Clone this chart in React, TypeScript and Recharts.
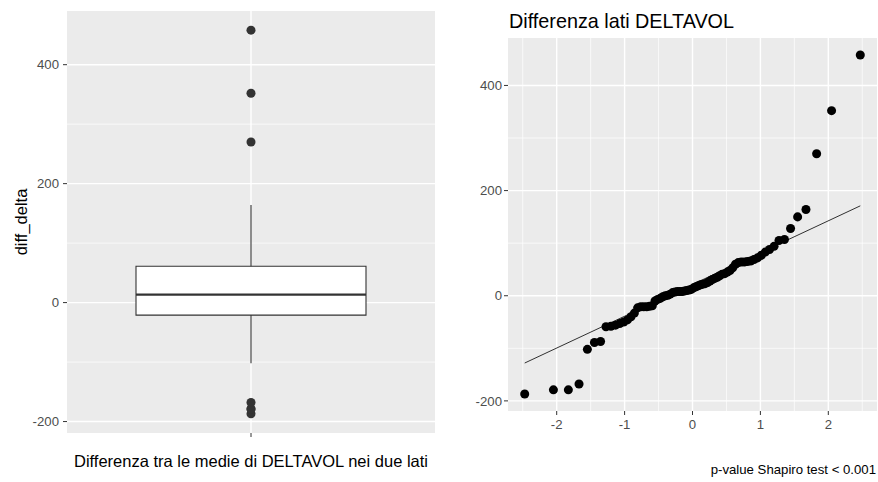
import React from 'react';
import {
  ScatterChart, Scatter, XAxis, YAxis, ZAxis, CartesianGrid, ReferenceLine, ReferenceArea,
} from 'recharts';

const FONT = '"Liberation Sans", Arial, Helvetica, sans-serif';

// DELTAVOL side difference, sorted sample (n = 74)
const diffDelta = [
  -187, -179, -179, -168, -102, -89, -87, -59, -58, -56,
  -53, -50, -46, -40, -33, -23, -21, -21, -21, -20,
  -19, -10, -7, -5, -2, 0, 1, 3, 6, 7,
  8, 8, 8, 9, 10, 11, 12, 15, 17, 19,
  21, 22, 23, 25, 28, 31, 33, 35, 38, 41,
  42, 45, 48, 53, 60, 63, 64, 64, 65, 66,
  69, 72, 77, 83, 88, 94, 105, 107, 128, 150,
  164, 270, 352, 458,
];

// normal theoretical quantiles for the same positions
const theoretical = [
  -2.471, -2.048, -1.828, -1.671, -1.548, -1.444, -1.354, -1.274, -1.201, -1.134,
  -1.072, -1.014, -0.958, -0.906, -0.856, -0.808, -0.762, -0.718, -0.674, -0.633,
  -0.592, -0.552, -0.513, -0.475, -0.437, -0.400, -0.364, -0.328, -0.292, -0.257,
  -0.222, -0.187, -0.153, -0.119, -0.085, -0.051, -0.017, 0.017, 0.051, 0.085,
  0.119, 0.153, 0.187, 0.222, 0.257, 0.292, 0.328, 0.364, 0.400, 0.437,
  0.475, 0.513, 0.552, 0.592, 0.633, 0.674, 0.718, 0.762, 0.808, 0.856,
  0.906, 0.958, 1.014, 1.072, 1.134, 1.201, 1.274, 1.354, 1.444, 1.548,
  1.671, 1.828, 2.048, 2.471,
];

// boxplot summary: lower whisker, Q1, median, Q3, upper whisker
const boxStats = [-102, -21, 13.5, 61, 164];
const outliers = [-187, -179, -179, -168, 270, 352, 458];

// reference line through the quartiles
const qqLineX = [-2.471, 2.471];
const qqLineY = [-128, 171];

const yTicks = [-200, 0, 200, 400];
const yMinor = [-100, 100, 300];
const qTicks = [-2, -1, 0, 1, 2];
const qMinor = [-2.5, -1.5, -0.5, 0.5, 1.5, 2.5];

const yDomain: [number, number] = [-219.25, 490.25];
const qDomain: [number, number] = [-2.717, 2.717];

const outlierData = outliers.map((v) => ({ x: 1, y: v }));
const qqData = diffDelta.map((v, i) => ({ x: theoretical[i], y: v }));

const tickText = { fontSize: 13.2, fill: '#4D4D4D', fontFamily: FONT };
const INK = '#333333';

function BoxPanel() {
  const [lo, q1, med, q3, hi] = boxStats;
  return (
    <ScatterChart width={440} height={482} margin={{ top: 11, right: 5, bottom: 29, left: 0 }}>
      <CartesianGrid fill="#EBEBEB" stroke="#fff" strokeWidth={0.7} horizontalValues={yMinor} vertical={false} />
      <CartesianGrid stroke="#fff" strokeWidth={1.4} horizontalValues={yTicks} verticalValues={[1]} />
      <XAxis type="number" dataKey="x" domain={[0.4, 1.6]} ticks={[1]} tickFormatter={() => ''}
        height={20} axisLine={false} tickLine={{ stroke: INK }} tickSize={4} allowDataOverflow />
      <YAxis type="number" dataKey="y" domain={yDomain} ticks={yTicks} width={67} axisLine={false}
        tickLine={{ stroke: INK }} tickSize={4} tickMargin={4} tick={tickText} allowDataOverflow />
      <ZAxis range={[28, 28]} />
      <ReferenceLine segment={[{ x: 1, y: q3 }, { x: 1, y: hi }]} stroke={INK} strokeWidth={1.1} />
      <ReferenceLine segment={[{ x: 1, y: lo }, { x: 1, y: q1 }]} stroke={INK} strokeWidth={1.1} />
      <ReferenceArea x1={0.625} x2={1.375} y1={q1} y2={q3} fill="#fff" fillOpacity={1} stroke={INK} strokeWidth={1.1} />
      <ReferenceLine segment={[{ x: 0.625, y: med }, { x: 1.375, y: med }]} stroke={INK} strokeWidth={2.2} />
      <Scatter data={outlierData} fill={INK} isAnimationActive={false} />
    </ScatterChart>
  );
}

function QQPanel() {
  return (
    <ScatterChart width={438} height={482} margin={{ top: 38, right: 1, bottom: 41, left: 0 }}>
      <CartesianGrid fill="#EBEBEB" stroke="#fff" strokeWidth={0.7} horizontalValues={yMinor} verticalValues={qMinor} />
      <CartesianGrid stroke="#fff" strokeWidth={1.4} horizontalValues={yTicks} verticalValues={qTicks} />
      <XAxis type="number" dataKey="x" domain={qDomain} ticks={qTicks} height={30} axisLine={false}
        tickLine={{ stroke: INK }} tickSize={4} tickMargin={5} tick={tickText} allowDataOverflow />
      <YAxis type="number" dataKey="y" domain={yDomain} ticks={yTicks} width={68} axisLine={false}
        tickLine={{ stroke: INK }} tickSize={4} tickMargin={2} tick={tickText} allowDataOverflow />
      <ZAxis range={[28, 28]} />
      <Scatter data={qqData} fill="#000" isAnimationActive={false} />
      <ReferenceLine
        segment={[{ x: qqLineX[0], y: qqLineY[0] }, { x: qqLineX[1], y: qqLineY[1] }]}
        stroke="#000" strokeWidth={0.8}
      />
    </ScatterChart>
  );
}

export default function App() {
  return (
    <div style={{ position: 'absolute', left: 0, top: 0, width: 878, height: 482, background: '#fff', fontFamily: FONT }}>
      <div style={{ position: 'absolute', left: 0, top: 0 }}>
        <BoxPanel />
      </div>
      <div style={{ position: 'absolute', left: 440, top: 0 }}>
        <QQPanel />
      </div>
      <svg width={878} height={482} style={{ position: 'absolute', left: 0, top: 0, pointerEvents: 'none' }}>
        <text transform="translate(27,222) rotate(-90)" textAnchor="middle" fontSize={16.5} fill="#000" fontFamily={FONT}>
          diff_delta
        </text>
        <text x={251} y={467} textAnchor="middle" fontSize={16.5} fill="#000" fontFamily={FONT}>
          Differenza tra le medie di DELTAVOL nei due lati
        </text>
        <text x={509} y={28} fontSize={19.8} fill="#000" fontFamily={FONT}>
          Differenza lati DELTAVOL
        </text>
        <text x={876} y={474} textAnchor="end" fontSize={13.2} fill="#000" fontFamily={FONT}>
          p-value Shapiro test &lt; 0.001
        </text>
      </svg>
    </div>
  );
}
